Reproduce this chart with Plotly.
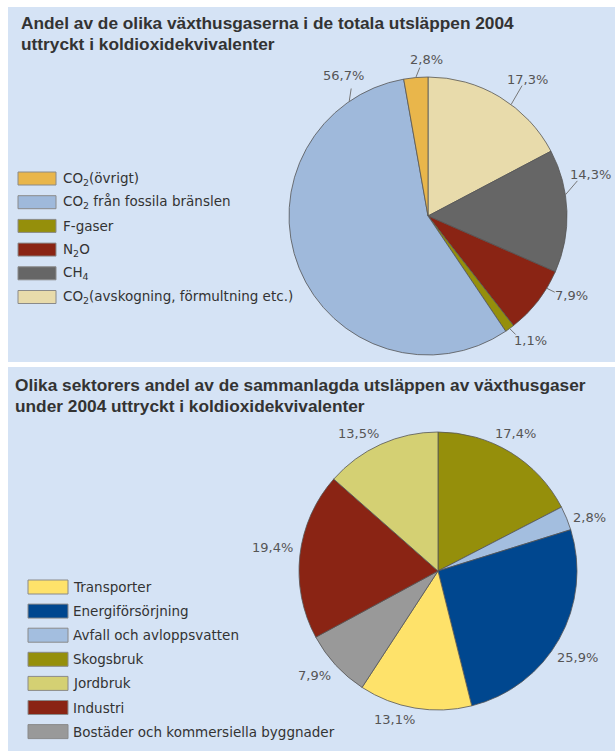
import math
import plotly.graph_objects as go

W, H = 615, 751

# ---------------- data ----------------
# Chart 1 (slices listed clockwise from 12 o'clock)
gas_names = ["CO<sub>2</sub>(avskogning, förmultning etc.)", "CH<sub>4</sub>", "N<sub>2</sub>O",
             "F-gaser", "CO<sub>2</sub> från fossila bränslen", "CO<sub>2</sub>(övrigt)"]
gas_values = [17.3, 14.3, 7.9, 1.1, 56.7, 2.8]
gas_legend_order = ["CO<sub>2</sub>(övrigt)", "CO<sub>2</sub> från fossila bränslen", "F-gaser",
                    "N<sub>2</sub>O", "CH<sub>4</sub>", "CO<sub>2</sub>(avskogning, förmultning etc.)"]

# Chart 2 (slices listed clockwise from 12 o'clock)
sector_names = ["Skogsbruk", "Avfall och avloppsvatten", "Energiförsörjning", "Transporter",
                "Bostäder och kommersiella byggnader", "Industri", "Jordbruk"]
sector_values = [17.4, 2.8, 25.9, 13.1, 7.9, 19.4, 13.5]
sector_legend_order = ["Transporter", "Energiförsörjning", "Avfall och avloppsvatten", "Skogsbruk",
                       "Jordbruk", "Industri", "Bostäder och kommersiella byggnader"]

title1 = ["Andel av de olika växthusgaserna i de totala utsläppen 2004",
          "uttryckt i koldioxidekvivalenter"]
title2 = ["Olika sektorers andel av de sammanlagda utsläppen av växthusgaser",
          "under 2004 uttryckt i koldioxidekvivalenter"]

# ---------------- styles ----------------
gas_colors = {
    "CO<sub>2</sub>(avskogning, förmultning etc.)": "#e8dbab",
    "CH<sub>4</sub>": "#666666",
    "N<sub>2</sub>O": "#8a2414",
    "F-gaser": "#958f0b",
    "CO<sub>2</sub> från fossila bränslen": "#9fb9db",
    "CO<sub>2</sub>(övrigt)": "#e9b64b",
}
sector_colors = {
    "Skogsbruk": "#958f0b",
    "Avfall och avloppsvatten": "#a3bedf",
    "Energiförsörjning": "#00478f",
    "Transporter": "#fee26a",
    "Bostäder och kommersiella byggnader": "#999999",
    "Industri": "#8a2414",
    "Jordbruk": "#d4d073",
}
# label placement styles: position along slice (fraction), leader end and text centre offsets (px)
gas_label_frac = [0.59, 0.37, 0.27, 0.5, 0.88, 0.5]
gas_leader_off = [(11, -19), (12, -14), (8, 4), (6, 6), (2, -13), (4, -10)]
gas_text_off = [(16, -25), (25, -20), (25, 7), (21, 12), (-6, -26), (11, -18)]
sector_text_off = [(5, -19), (23, -1), (18, 18), (-20, 11), (-21, 10), (-27, -8), (-22, -11)]

BG = "#d5e3f5"
TXT = "#333333"
PCT = "#555555"

pie1_c, pie1_r = (428, 216), 139
pie2_c, pie2_r = (438, 571), 139


def px(x):
    return x / W


def py(y):
    return 1 - y / H


def pct_text(v):
    return f"{v:.1f}".replace(".", ",") + "%"


def domain(c, r):
    return dict(x=[px(c[0] - r), px(c[0] + r)], y=[py(c[1] + r), py(c[1] - r)])


fig = go.Figure()

fig.add_trace(go.Pie(
    labels=gas_names, values=gas_values, sort=False, direction="clockwise", rotation=0,
    marker=dict(colors=[gas_colors[n] for n in gas_names], line=dict(color="#555555", width=0.8)),
    textinfo="none", hoverinfo="label+percent", showlegend=False, domain=domain(pie1_c, pie1_r),
))
fig.add_trace(go.Pie(
    labels=sector_names, values=sector_values, sort=False, direction="clockwise", rotation=0,
    marker=dict(colors=[sector_colors[n] for n in sector_names], line=dict(color="#555555", width=0.8)),
    textinfo="none", hoverinfo="label+percent", showlegend=False, domain=domain(pie2_c, pie2_r),
))

shapes = [
    dict(type="rect", xref="paper", yref="paper", x0=px(8), x1=px(615), y0=py(362), y1=py(7),
         fillcolor=BG, line=dict(width=0), layer="below"),
    dict(type="rect", xref="paper", yref="paper", x0=px(8), x1=px(615), y0=py(751), y1=py(367),
         fillcolor=BG, line=dict(width=0), layer="below"),
]
annotations = []


def edge_points(values, fracs, c, r):
    tot = sum(values)
    pts = []
    start = 0.0
    for v, f in zip(values, fracs):
        ang = (start + f * v) / tot * 2 * math.pi
        pts.append((c[0] + r * math.sin(ang), c[1] - r * math.cos(ang)))
        start += v
    return pts


PCT_FONT = dict(family="DejaVu Sans", size=13, color=PCT)

# chart 1 labels with leader lines
for (ex, ey), v, lo, to in zip(edge_points(gas_values, gas_label_frac, pie1_c, pie1_r),
                               gas_values, gas_leader_off, gas_text_off):
    shapes.append(dict(type="line", xref="paper", yref="paper", x0=px(ex), y0=py(ey),
                       x1=px(ex + lo[0]), y1=py(ey + lo[1]), line=dict(color="#777777", width=1)))
    annotations.append(dict(x=px(ex + to[0]), y=py(ey + to[1]), xref="paper", yref="paper",
                            text=pct_text(v), showarrow=False, xanchor="center", yanchor="middle",
                            font=PCT_FONT))

# chart 2 labels
for (ex, ey), v, to in zip(edge_points(sector_values, [0.5] * len(sector_values), pie2_c, pie2_r),
                           sector_values, sector_text_off):
    annotations.append(dict(x=px(ex + to[0]), y=py(ey + to[1]), xref="paper", yref="paper",
                            text=pct_text(v), showarrow=False, xanchor="center", yanchor="middle",
                            font=PCT_FONT))

TITLE_FONT = dict(family="Liberation Sans", size=17.3, color=TXT)
for i, line in enumerate(title1):
    annotations.append(dict(x=px(19), y=py(23 + i * 21), xref="paper", yref="paper", text=f"<b>{line}</b>",
                            showarrow=False, xanchor="left", yanchor="middle", font=TITLE_FONT))
for i, line in enumerate(title2):
    annotations.append(dict(x=px(13), y=py(385 + i * 20.5), xref="paper", yref="paper", text=f"<b>{line}</b>",
                            showarrow=False, xanchor="left", yanchor="middle", font=TITLE_FONT))


def legend(order, colors, x0, x1, y_first, step, h, text_x):
    for i, name in enumerate(order):
        yc = y_first + i * step
        shapes.append(dict(type="rect", xref="paper", yref="paper", x0=px(x0), x1=px(x1),
                           y0=py(yc + h / 2), y1=py(yc - h / 2), fillcolor=colors[name],
                           line=dict(color="#8a8a8a", width=1)))
        annotations.append(dict(x=px(text_x), y=py(yc), xref="paper", yref="paper", text=name,
                                showarrow=False, xanchor="left", yanchor="middle",
                                font=dict(family="DejaVu Sans", size=13.5, color=TXT)))


legend(gas_legend_order, gas_colors, 18, 56, 178.5, 23.7, 13, 61)
legend(sector_legend_order, sector_colors, 28, 68, 587, 24.1, 14, 71)

fig.update_layout(
    width=W, height=H, margin=dict(l=0, r=0, t=0, b=0),
    paper_bgcolor="white", plot_bgcolor="white",
    shapes=shapes, annotations=annotations, showlegend=False,
)

fig.write_html("out.html", config={"displayModeBar": False},
               post_script="document.body.style.margin='0';document.body.style.overflow='hidden';")
